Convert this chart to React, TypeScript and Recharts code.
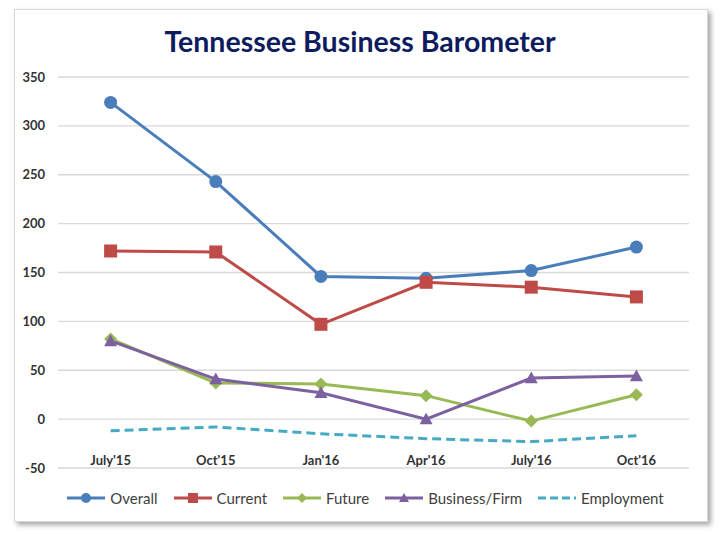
import React from "react"
import {
  LineChart,
  Line,
  XAxis,
  YAxis,
  CartesianGrid,
} from "recharts";

const quarters = ["July'15", "Oct'15", "Jan'16", "Apr'16", "July'16", "Oct'16"];
const overall = [324, 243, 146, 144, 152, 176];
const current = [172, 171, 97, 140, 135, 125];
const future = [82, 37, 36, 24, -2, 25];
const businessFirm = [80, 41, 27, 0, 42, 44];
const employment = [-12, -8, -15, -20, -23, -17];
const yTicks = [-50, 0, 50, 100, 150, 200, 250, 300, 350];

const chartData = quarters.map((q, i) => ({
  name: q,
  overall: overall[i],
  current: current[i],
  future: future[i],
  business: businessFirm[i],
  employment: employment[i],
}));

type Shape = "circle" | "square" | "diamond" | "triangle" | "none"

const series: { key: string; label: string; color: string; shape: Shape; dash?: string }[] = [
  { key: "overall", label: "Overall", color: "#4a7ebb", shape: "circle" },
  { key: "current", label: "Current", color: "#be4b48", shape: "square" },
  { key: "future", label: "Future", color: "#98b954", shape: "diamond" },
  { key: "business", label: "Business/Firm", color: "#7d60a0", shape: "triangle" },
  { key: "employment", label: "Employment", color: "#46aac5", shape: "none", dash: "9 5" },
];

const marker = (shape: Shape, cx: number, cy: number, color: string, s: number, key?: string) => {
  if (shape === "circle") return <circle key={key} cx={cx} cy={cy} r={s} fill={color} />
  if (shape === "square") return <rect key={key} x={cx - s} y={cy - s} width={s * 2} height={s * 2} fill={color} />
  if (shape === "diamond")
    return <polygon key={key} points={`${cx},${cy - s} ${cx + s},${cy} ${cx},${cy + s} ${cx - s},${cy}`} fill={color} />
  if (shape === "triangle")
    return <polygon key={key} points={`${cx},${cy - s} ${cx + s},${cy + s * 0.8} ${cx - s},${cy + s * 0.8}`} fill={color} />
  return <g key={key} />
}

const makeDot = (shape: Shape, color: string, size: number) => (props: any) =>
  marker(shape, props.cx, props.cy, color, size, `${shape}-${props.index}`)

const XTick = (props: any) => (
  <text x={props.x} y={460} textAnchor="middle" dominantBaseline="central"
    fontSize={13} fontWeight="bold" fill="#333" fontFamily="Lato, sans-serif">
    {props.payload.value}
  </text>
)

const App = () => {
  return (
    <div style={{ position: "fixed", left: 0, top: 0, width: 720, height: 534, background: "#fff", fontFamily: "Lato, sans-serif" }}>
      <div style={{
        position: "absolute", left: 14, top: 9, width: 692, height: 511,
        border: "1px solid #d8d8d8", boxShadow: "3px 3px 5px rgba(0,0,0,0.35)", background: "#fff"
      }} />
      <div style={{
        position: "absolute", left: 0, top: 24, width: 720, textAlign: "center",
        fontSize: 28.5, fontWeight: "bold", color: "#0d1c5e", lineHeight: "34px"
      }}>
        Tennessee Business Barometer
      </div>
      <div style={{ position: "absolute", left: 0, top: 0 }}>
        <LineChart width={720} height={534} data={chartData}
          margin={{ top: 77, right: 31, left: 0, bottom: 36 }}>
          <CartesianGrid vertical={false} stroke="#d9d9d9" strokeWidth={1.3} />
          <XAxis dataKey="name" height={30} axisLine={false} tickLine={false}
            padding={{ left: 52.6, right: 52.6 }} tick={<XTick />} />
          <YAxis width={58} domain={[-50, 350]} ticks={yTicks} axisLine={false} tickLine={false}
            tickMargin={7} interval={0}
            tick={{ fontSize: 13, fontWeight: "bold", fill: "#333", fontFamily: "Lato, sans-serif" }} />
          {series.map((s) => (
            <Line key={s.key} dataKey={s.key} stroke={s.color} strokeWidth={3}
              strokeDasharray={s.dash} isAnimationActive={false}
              dot={s.shape === "none" ? false : makeDot(s.shape, s.color, 6.5)}
              activeDot={false} />
          ))}
        </LineChart>
      </div>
      <div style={{
        position: "absolute", left: 0, top: 488, width: 730, display: "flex",
        justifyContent: "center", gap: 15, fontSize: 15, color: "#404040", lineHeight: "20px"
      }}>
        {series.map((s) => (
          <div key={s.key} style={{ display: "flex", alignItems: "center", gap: 4 }}>
            <svg width={40} height={16}>
              <line x1={1} y1={8} x2={39} y2={8} stroke={s.color} strokeWidth={3}
                strokeDasharray={s.dash ? "8 4" : undefined} />
              {marker(s.shape, 20, 8, s.color, 5)}
            </svg>
            <span>{s.label}</span>
          </div>
        ))}
      </div>
    </div>
  )
}

export default App;
